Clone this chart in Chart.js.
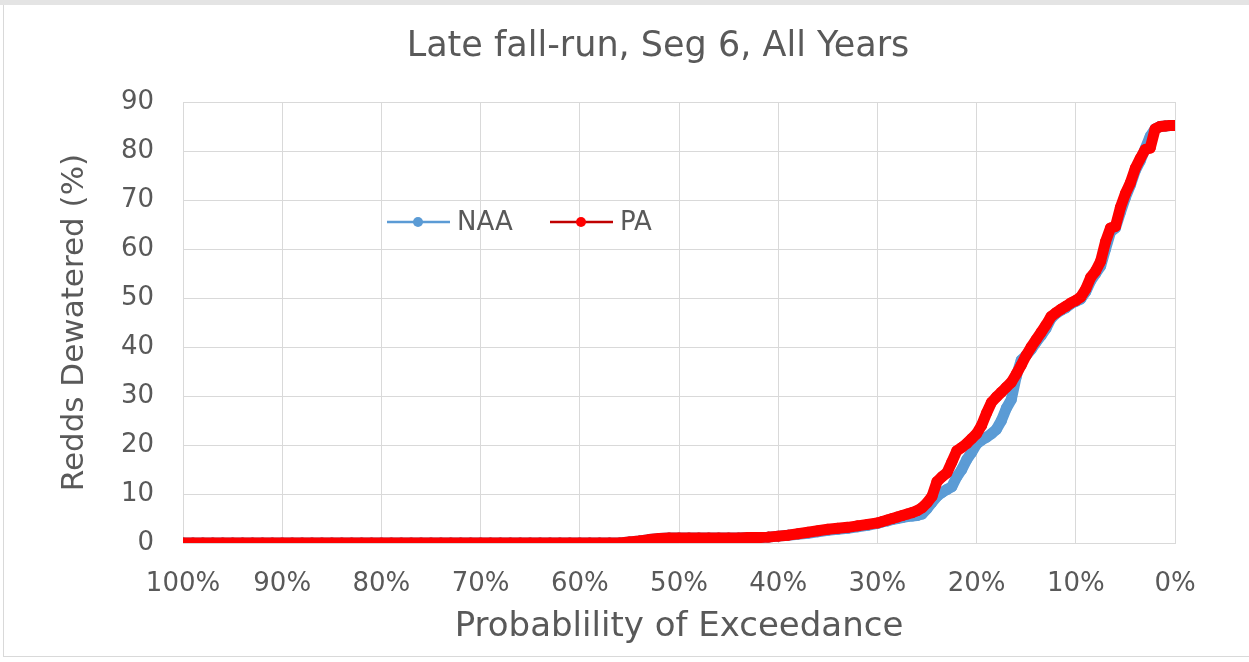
<!DOCTYPE html>
<html>
<head>
<meta charset="utf-8">
<script src="https://cdn.jsdelivr.net/npm/chart.js@4.4.1/dist/chart.umd.min.js"></script>
<style>
  html, body { margin:0; padding:0; background:#ffffff; }
  #wrap { position:relative; width:1249px; height:662px; overflow:hidden; }
  #topband { position:absolute; left:0; top:0; width:1249px; height:5px; background:#e4e4e4; }
  #frame { position:absolute; left:3px; top:5px; width:1260px; height:651px; border-left:1px solid #d9d9d9; border-bottom:1px solid #d9d9d9; }
  canvas { position:absolute; left:0; top:0; }
</style>
</head>
<body>
<div id="wrap">
  <div id="topband"></div>
  <div id="frame"></div>
  <canvas id="c" width="1249" height="662"></canvas>
</div>
<script>
const chartTitle = 'Late fall-run, Seg 6, All Years';
const xTitle = 'Probablility of Exceedance';
const yTitle = 'Redds Dewatered (%)';
const seriesNames = ['NAA', 'PA'];

// Probability of exceedance (%) for each plotted point
const exceedance = [
  100,99,98,97,96,95,94,93,92,91,90,89,88,87,86,85,84,83,82,81,
  80,79,78,77,76,75,74,73,72,71,70,69,68,67,66,65,64,63,62,61,
  60,59,58,57,56,55,54,53,52,51,50,49,48,47,46,45,44,43,42,41,
  40,39,38,37,36,35,34,33,32,31,
  30,29.5,29,28.5,28,27.5,27,26.5,26,25.5,
  25,24.5,24,23.5,23,22.5,22,21.5,21,20.5,
  20,19.5,19,18.5,18,17.5,17,16.5,16,15.5,
  15,14.5,14,13.5,13,12.5,12,11.5,11,10.5,
  10,9.5,9,8.5,8,7.5,7,6.5,6,5.5,
  5,4.5,4,3.5,3,2.5,2,1.5,1,0.5,
  0
];

// Redds dewatered (%) - NAA
const naa = [
  0,0,0,0,0,0,0,0,0,0,0,0,0,0,0,0,0,0,0,0,
  0,0,0,0,0,0,0,0,0,0,0,0,0,0,0,0,0,0,0,0,
  0,0,0,0,0,0.2,0.4,0.7,0.9,1.0,1.0,1.0,1.0,1.0,1.0,1.0,1.0,1.1,1.1,1.2,
  1.4,1.6,1.8,2.0,2.3,2.6,2.8,3.0,3.3,3.6,
  4.0,4.3,4.5,4.8,5.0,5.2,5.4,5.5,5.6,5.9,
  7.0,8.3,9.5,10.3,10.9,11.5,13.5,15.0,17.0,18.5,
  20.2,21.0,21.6,22.3,23.2,25.0,27.5,29.3,34.0,37.3,
  38.3,39.5,41.0,42.3,43.8,45.8,46.8,47.5,48.0,48.8,
  49.3,49.8,51.3,53.5,55.0,56.5,60.0,63.5,64.3,67.5,
  70.5,73.0,76.0,78.0,80.5,83.0,84.5,85.0,85.1,85.2,
  85.2
];

// Redds dewatered (%) - PA
const pa = [
  0,0,0,0,0,0,0,0,0,0,0,0,0,0,0,0,0,0,0,0,
  0,0,0,0,0,0,0,0,0,0,0,0,0,0,0,0,0,0,0,0,
  0,0,0,0,0,0.2,0.4,0.7,0.9,1.0,1.0,1.0,1.0,1.0,1.0,1.0,1.0,1.1,1.1,1.2,
  1.4,1.6,1.9,2.2,2.5,2.8,3.0,3.2,3.5,3.8,
  4.1,4.4,4.7,5.0,5.3,5.6,5.9,6.2,6.6,7.2,
  8.2,9.5,12.5,13.5,14.3,16.5,18.8,19.5,20.3,21.3,
  22.3,24.0,26.5,28.7,29.8,30.8,31.8,32.8,34.5,36.3,
  38.3,40.0,41.5,43.0,44.5,46.2,47.0,47.7,48.3,49.0,
  49.5,50.2,51.8,54.2,55.5,57.5,61.5,64.3,64.6,68.5,
  71.3,73.5,76.5,78.5,80.3,80.6,84.5,85.0,85.1,85.2,
  85.2
];

const xTicks = [100,90,80,70,60,50,40,30,20,10,0];
const yTicks = [0,10,20,30,40,50,60,70,80,90];

const TEXT = '#595959';
const GRID = '#d9d9d9';
const NAA_COLOR = '#5B9BD5';
const PA_LINE = '#C00000';
const PA_MARK = '#FF0000';
const FONT = 'DejaVu Sans';

const toPts = (ys) => exceedance.map((x, i) => ({ x: x, y: ys[i] }));
const segLen = (c) => Math.hypot(c.p1.x - c.p0.x, c.p1.y - c.p0.y);
const DENSE = 24;

const textPlugin = {
  id: 'customText',
  afterDraw(chart) {
    const ctx = chart.ctx;
    ctx.save();
    // title
    ctx.fillStyle = TEXT;
    ctx.font = '35px "' + FONT + '"';
    ctx.textAlign = 'center';
    ctx.textBaseline = 'middle';
    ctx.fillText(chartTitle, 658, 47);
    // legend
    const items = [
      { label: seriesNames[0], line: NAA_COLOR, mark: NAA_COLOR, x0: 387 },
      { label: seriesNames[1], line: PA_LINE, mark: PA_MARK, x0: 550 }
    ];
    const y = 222;
    items.forEach(it => {
      ctx.strokeStyle = it.line;
      ctx.lineWidth = 2.5;
      ctx.beginPath();
      ctx.moveTo(it.x0, y);
      ctx.lineTo(it.x0 + 63, y);
      ctx.stroke();
      ctx.fillStyle = it.mark;
      ctx.beginPath();
      ctx.arc(it.x0 + 31, y, 5, 0, Math.PI * 2);
      ctx.fill();
      ctx.fillStyle = TEXT;
      ctx.font = '26px "' + FONT + '"';
      ctx.textBaseline = 'middle';
      ctx.textAlign = 'left';
      ctx.fillText(it.label, it.x0 + 70, y + 1);
    });
    ctx.restore();
  }
};

new Chart(document.getElementById('c'), {
  type: 'line',
  data: {
    datasets: [
      {
        label: seriesNames[0],
        data: toPts(naa),
        borderColor: NAA_COLOR,
        backgroundColor: NAA_COLOR,
        pointBackgroundColor: NAA_COLOR,
        pointBorderColor: NAA_COLOR,
        borderWidth: 2,
        borderCapStyle: 'round',
        borderJoinStyle: 'round',
        segment: {
          borderWidth: c => segLen(c) < DENSE ? 11 : 2
        },
        pointRadius: 5.5,
        pointBorderWidth: 0,
        tension: 0,
        order: 1
      },
      {
        label: seriesNames[1],
        data: toPts(pa),
        borderColor: PA_LINE,
        backgroundColor: PA_MARK,
        pointBackgroundColor: PA_MARK,
        pointBorderColor: PA_MARK,
        borderWidth: 2,
        borderCapStyle: 'round',
        borderJoinStyle: 'round',
        segment: {
          borderWidth: c => segLen(c) < DENSE ? 11 : 2,
          borderColor: c => segLen(c) < DENSE ? PA_MARK : PA_LINE
        },
        pointRadius: 5.5,
        pointBorderWidth: 0,
        tension: 0,
        order: 0
      }
    ]
  },
  options: {
    responsive: false,
    animation: false,
    devicePixelRatio: 1,
    layout: { padding: { left: 0, right: 74, top: 102, bottom: 0 } },
    plugins: {
      legend: { display: false },
      tooltip: { enabled: false },
      title: { display: false }
    },
    scales: {
      x: {
        type: 'linear',
        reverse: true,
        min: 0,
        max: 100,
        afterBuildTicks(scale) { scale.ticks = xTicks.map(v => ({ value: v })); },
        afterFit(scale) { scale.height = 119; },
        ticks: {
          color: TEXT,
          font: { family: FONT, size: 26 },
          padding: 26,
          maxRotation: 0,
          autoSkip: false,
          callback: (v) => v + '%'
        },
        grid: { color: GRID, lineWidth: 1, drawTicks: false },
        border: { display: true, color: GRID },
        title: {
          display: true,
          text: xTitle,
          color: TEXT,
          font: { family: FONT, size: 34, weight: 'normal' },
          padding: { top: 4, bottom: 14 }
        }
      },
      y: {
        min: 0,
        max: 90,
        afterBuildTicks(scale) { scale.ticks = yTicks.map(v => ({ value: v })); },
        afterFit(scale) { scale.width = 183; },
        ticks: {
          color: TEXT,
          font: { family: FONT, size: 26 },
          padding: 29
        },
        grid: { color: GRID, lineWidth: 1, drawTicks: false },
        border: { display: true, color: GRID },
        title: {
          display: true,
          text: yTitle,
          color: TEXT,
          font: { family: FONT, size: 31, weight: 'normal' },
          padding: { top: 56, bottom: 4 }
        }
      }
    }
  },
  plugins: [textPlugin]
});
</script>
</body>
</html>
